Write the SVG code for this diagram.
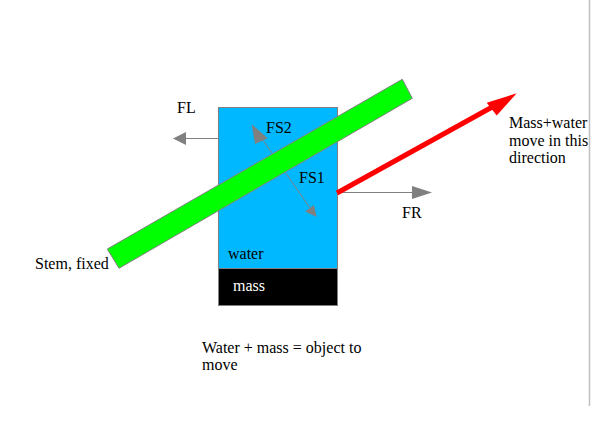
<svg xmlns="http://www.w3.org/2000/svg" width="592" height="433" viewBox="0 0 592 433">
<style>
text{font-family:"Liberation Serif","Times New Roman",serif;font-size:16px;fill:#000}
.g{stroke:#808080;stroke-width:1;fill:none}
.h{fill:#808080;stroke:none}
</style>
<rect width="592" height="433" fill="#fff"/>
<line x1="589.5" y1="0" x2="589.5" y2="406" stroke="#c0c0c0" stroke-width="1.5"/>
<g id="water">
<rect x="218.5" y="107.5" width="119" height="161" fill="#00b8ff" stroke="#808080"/>
<text x="228" y="259">water</text>
</g>
<g id="mass">
<rect x="218.5" y="268.5" width="119" height="37" fill="#000" stroke="#808080"/>
<text x="233" y="291" style="fill:#fff">mass</text>
</g>
<g id="connectors">
<line class="g" x1="218" y1="138.5" x2="184" y2="138.5"/>
<polygon class="h" points="173,138.5 186,132 186,145"/>
<line class="g" x1="337" y1="192.5" x2="414" y2="192.5"/>
<polygon class="h" points="432,192.5 412,186 412,199"/>
<line class="g" x1="258" y1="133" x2="310" y2="208"/>
<polygon class="h" points="251.7,124.3 255,144 267.7,138.3"/>
<polygon class="h" points="316.7,217 305,211.5 314,205"/>
<line x1="337" y1="193" x2="494" y2="106" stroke="#ff0000" stroke-width="5"/>
<polygon points="516.7,93.3 486.7,102.7 496.7,115.5" fill="#ff0000"/>
</g>
<g id="stem">
<polygon points="107.3,249 402.3,79.3 412.3,98.3 119,268.3" fill="#00ff00" stroke="#808080" stroke-width="1"/>
<text x="35" y="269">Stem, fixed</text>
</g>
<g id="labels">
<text x="177" y="113">FL</text>
<text x="266" y="133">FS2</text>
<text x="299" y="183">FS1</text>
<text x="402" y="218">FR</text>
<text x="509" y="128">Mass+water</text>
<text x="509" y="146">move in this</text>
<text x="509" y="163">direction</text>
<text x="202" y="353">Water + mass = object to</text>
<text x="202" y="370">move</text>
</g>
</svg>
